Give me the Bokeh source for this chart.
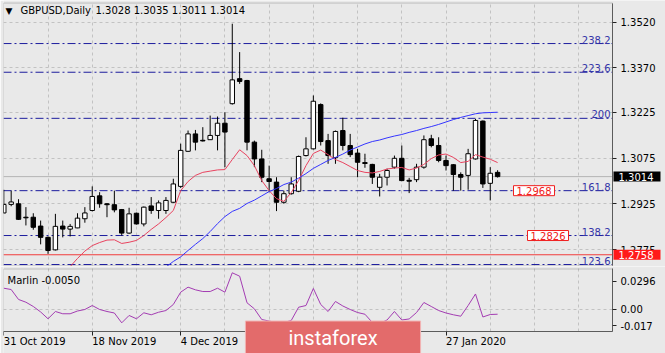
from bokeh.plotting import figure
from bokeh.models import (FixedTicker, Label, Range1d, ColumnDataSource, BoxAnnotation,
                          PrintfTickFormatter, CustomJSTickFormatter)
from bokeh.layouts import column
from bokeh.embed import file_html
from bokeh.resources import INLINE

# ---------------- data ----------------
symbol_title = "GBPUSD,Daily"
last_ohlc_text = "1.3028 1.3035 1.3011 1.3014"

opens = [1.2895, 1.2923, 1.2925, 1.2881, 1.2881, 1.2852, 1.2815, 1.2774, 1.2852, 1.2842,
         1.2846, 1.2876, 1.2903, 1.2951, 1.2925, 1.2922, 1.2906, 1.2829, 1.2894, 1.2859,
         1.2918, 1.2903, 1.2903, 1.2930, 1.2982, 1.3097, 1.3154, 1.3133, 1.3135, 1.3149,
         1.3189, 1.3253, 1.3335, 1.3329, 1.3127, 1.3072, 1.3007, 1.2996, 1.2930, 1.2958,
         1.2966, 1.3083, 1.3105, 1.3250, 1.3132, 1.3076, 1.3165, 1.3116, 1.3091, 1.3060,
         1.3054, 1.2979, 1.3012, 1.3045, 1.3074, 1.3002, 1.3004, 1.3045, 1.3138, 1.3116,
         1.3067, 1.3053, 1.3021, 1.3018, 1.3072, 1.3196, 1.2992, 1.3028]
highs = [1.2971, 1.2968, 1.2940, 1.2914, 1.2894, 1.2870, 1.2818, 1.2892, 1.2870, 1.2859,
         1.2894, 1.2914, 1.2982, 1.2963, 1.2927, 1.2968, 1.2908, 1.2912, 1.2896, 1.2916,
         1.2947, 1.2936, 1.2947, 1.3007, 1.3122, 1.3165, 1.3167, 1.3176, 1.3214, 1.3211,
         1.3225, 1.3515, 1.3422, 1.3331, 1.3132, 1.3102, 1.3050, 1.3012, 1.2968, 1.3012,
         1.3083, 1.3143, 1.3280, 1.3254, 1.3154, 1.3165, 1.3207, 1.3154, 1.3105, 1.3089,
         1.3056, 1.3023, 1.3040, 1.3083, 1.3116, 1.3010, 1.3056, 1.3149, 1.3151, 1.3143,
         1.3083, 1.3055, 1.3028, 1.3105, 1.3203, 1.3198, 1.3045, 1.3035]
lows = [1.2893, 1.2917, 1.2872, 1.2854, 1.2840, 1.2792, 1.2761, 1.2772, 1.2815, 1.2818,
        1.2845, 1.2863, 1.2900, 1.2912, 1.2881, 1.2897, 1.2821, 1.2827, 1.2857, 1.2851,
        1.2892, 1.2876, 1.2892, 1.2928, 1.2977, 1.3095, 1.3100, 1.3129, 1.3134, 1.3100,
        1.3045, 1.3250, 1.3318, 1.3100, 1.3045, 1.2996, 1.2963, 1.2901, 1.2925, 1.2955,
        1.2963, 1.3080, 1.3103, 1.3116, 1.3056, 1.3056, 1.3100, 1.3078, 1.3012, 1.3043,
        1.2990, 1.2949, 1.2985, 1.3040, 1.2999, 1.2960, 1.2996, 1.3040, 1.3110, 1.3061,
        1.3034, 1.2968, 1.2968, 1.2971, 1.3070, 1.2977, 1.2936, 1.3011]
closes = [1.2923, 1.2931, 1.2874, 1.2879, 1.2848, 1.2815, 1.2772, 1.2851, 1.2842, 1.2851,
          1.2878, 1.2895, 1.2949, 1.2925, 1.2922, 1.2905, 1.2829, 1.2892, 1.2859, 1.2914,
          1.2903, 1.2928, 1.2936, 1.2990, 1.3100, 1.3154, 1.3127, 1.3131, 1.3149, 1.3189,
          1.3160, 1.3331, 1.3326, 1.3127, 1.3072, 1.3012, 1.2998, 1.2930, 1.2958, 1.2990,
          1.3080, 1.3105, 1.3261, 1.3129, 1.3083, 1.3162, 1.3116, 1.3086, 1.3061, 1.3057,
          1.3012, 1.3012, 1.3034, 1.3074, 1.3001, 1.2999, 1.3045, 1.3135, 1.3116, 1.3067,
          1.3050, 1.3021, 1.3012, 1.3089, 1.3198, 1.2990, 1.3025, 1.3014]

# fast moving average (red), first value at bar index red_ma_start
red_ma_start = 9
red_ma = [1.2719, 1.2746, 1.2770, 1.2788, 1.2798, 1.2806, 1.2807, 1.2795, 1.2799, 1.2805,
          1.2821, 1.2841, 1.2859, 1.2880, 1.2903, 1.2968, 1.2998, 1.3018, 1.3028, 1.3032,
          1.3036, 1.3037, 1.3070, 1.3102, 1.3083, 1.3050, 1.3001, 1.2968, 1.2942, 1.2933,
          1.2962, 1.3001, 1.3050, 1.3090, 1.3101, 1.3086, 1.3070, 1.3060, 1.3047, 1.3034,
          1.3028, 1.3026, 1.3031, 1.3039, 1.3042, 1.3044, 1.3036, 1.3042, 1.3054, 1.3073,
          1.3085, 1.3088, 1.3077, 1.3060, 1.3064, 1.3086, 1.3078, 1.3071, 1.3060]
# slow moving average (blue)
blue_ma_start = 22
blue_ma = [1.2718, 1.2736, 1.2751, 1.2772, 1.2792, 1.2811, 1.2834, 1.2860, 1.2883, 1.2900,
           1.2910, 1.2926, 1.2937, 1.2951, 1.2965, 1.2975, 1.2988, 1.2996, 1.3009, 1.3024,
           1.3041, 1.3054, 1.3067, 1.3077, 1.3088, 1.3101, 1.3111, 1.3121, 1.3129, 1.3134,
           1.3141, 1.3147, 1.3152, 1.3159, 1.3165, 1.3172, 1.3178, 1.3185, 1.3193, 1.3201,
           1.3208, 1.3214, 1.3220, 1.3223, 1.3224, 1.3225]

marlin_name = "Marlin -0.0050"
marlin = [0.0225, 0.0211, 0.0106, 0.0077, 0.0032, -0.0026, -0.0098, -0.0021, -0.0045, -0.0045,
          -0.0016, 0.0000, 0.0042, 0.0000, -0.0021, -0.0037, -0.0141, -0.0063, -0.0098, -0.0035,
          -0.0056, -0.0029, -0.0011, 0.0053, 0.0183, 0.0236, 0.0208, 0.0190, 0.0190, 0.0225,
          0.0183, 0.0388, 0.0352, 0.0071, 0.0007, -0.0106, -0.0122, -0.0137, -0.0137, -0.0116,
          0.0024, 0.0042, 0.0222, 0.0053, -0.0021, 0.0085, 0.0037, 0.0000, -0.0032, -0.0050,
          -0.0137, -0.0148, -0.0111, -0.0021, -0.0111, -0.0100, -0.0032, 0.0074, 0.0032, -0.0011,
          -0.0037, -0.0056, -0.0071, 0.0042, 0.0164, -0.0079, -0.0053, -0.0050]

fib_names = ["238.2", "223.6", "200", "161.8", "138.2", "123.6"]
fib_levels = [1.3450, 1.3356, 1.3205, 1.2968, 1.2821, 1.2726]

marked_texts = ["1.2968", "1.2826"]
marked_levels = [1.2968, 1.2821]

current_price = 1.3014
alert_price = 1.2758

price_ticks = [1.3520, 1.3370, 1.3225, 1.3075, 1.2925, 1.2775]
marlin_ticks = [0.0296, 0.0, -0.017]
marlin_tick_labels = ["0.0296", "0.00", "-0.017"]

date_tick_bars = [0, 12, 24, 36, 48, 60]
date_tick_labels = ["31 Oct 2019", "18 Nov 2019", "4 Dec 2019", "20 Dec 2019", "9 Jan 2020", "27 Jan 2020"]

watermark = "instaforex"

# ---------------- layout / style constants ----------------
BG = "#e9e9e9"
BORDER = "#5c5c5c"
GRID = "#c2c2c2"
FONT = "DejaVu Sans"
FS = "10px"
FIB_LINE = "#1d1d9e"
FIB_TEXT = "#3434a8"

# x: frame starts at page x=3, 7.37 px per bar, 662 px wide frame
X_START, X_END = -0.041, 89.78
BOX_L, BOX_R = -0.041, 82.59          # panel box left / right (page x 3 .. 612)
# main panel y: frame = page y 0..266
Y1_MIN, Y1_MAX = 1.27195, 1.35911
BOX_B, BOX_T = 1.27212, 1.35828
# indicator y: frame = page y 266..353
Y2_MIN, Y2_MAX = -0.04651, 0.04545
P2_B, P2_T = -0.02326, 0.04281

grid_bars = list(range(6, 83, 6))

n = len(opens)
bars = list(range(n))
src = ColumnDataSource(dict(
    x=bars, o=opens, h=highs, l=lows, c=closes,
    top=[max(a, b) for a, b in zip(opens, closes)],
    bot=[min(a, b) for a, b in zip(opens, closes)],
    fill=["white" if c >= o else "black" for o, c in zip(opens, closes)],
))

xr = Range1d(X_START, X_END)


def style_axis(a):
    a.major_tick_out = 4
    a.major_tick_in = 0
    a.minor_tick_out = 0
    a.minor_tick_in = 0
    a.axis_line_color = BORDER
    a.major_tick_line_color = "#222222"
    a.major_label_text_font = FONT
    a.major_label_text_font_size = FS
    a.major_label_text_color = "black"
    a.major_label_standoff = 4


def hline(p, level, color, dash="solid"):
    p.segment(x0=[BOX_L], x1=[BOX_R], y0=[level], y1=[level],
              line_color=color, line_width=1, line_dash=dash)


# ---------------- main price panel ----------------
p1 = figure(width=665, height=266, x_range=xr, y_range=Range1d(Y1_MIN, Y1_MAX),
            x_axis_location=None, y_axis_location="right",
            toolbar_location=None, output_backend="svg",
            min_border_left=3, min_border_right=0, min_border_top=0, min_border_bottom=0,
            background_fill_color=BG, border_fill_color=BG, outline_line_color=None)

ax = p1.yaxis[0]
ax.fixed_location = BOX_R
ax.bounds = (BOX_B, BOX_T)
ax.ticker = FixedTicker(ticks=price_ticks)
ax.formatter = PrintfTickFormatter(format="%.4f")
style_axis(ax)

p1.ygrid.ticker = FixedTicker(ticks=price_ticks)
p1.ygrid.cross_bounds = (BOX_L, BOX_R)
p1.ygrid.grid_line_color = GRID
p1.ygrid.grid_line_dash = "3 3"
p1.xgrid.ticker = FixedTicker(ticks=grid_bars)
p1.xgrid.cross_bounds = (BOX_B, BOX_T)
p1.xgrid.grid_line_color = GRID
p1.xgrid.grid_line_dash = "3 3"

# horizontal levels
hline(p1, current_price, "#b4b4b4")
hline(p1, alert_price, "#f03c3c")
for lvl in fib_levels:
    hline(p1, lvl, FIB_LINE, "8 3 2 3")

# candles
p1.segment(x0="x", y0="l", x1="x", y1="h", line_color="black", line_width=1, source=src)
p1.vbar(x="x", width=0.6, top="top", bottom="bot", fill_color="fill",
        line_color="black", line_width=1, source=src)

# moving averages
p1.line(x=list(range(red_ma_start, red_ma_start + len(red_ma))), y=red_ma,
        line_color="#e8435f", line_width=1)
p1.line(x=list(range(blue_ma_start, blue_ma_start + len(blue_ma))), y=blue_ma,
        line_color="#3535ff", line_width=1)

# panel border
p1.add_layout(BoxAnnotation(left=BOX_L, right=BOX_R, bottom=BOX_B, top=BOX_T,
                            fill_alpha=0, line_color=BORDER, line_width=1))

# fib labels
for name, lvl in zip(fib_names, fib_levels):
    p1.add_layout(Label(x=607, x_units="screen", y=lvl, text=name, text_align="right",
                        text_baseline="bottom", text_color=FIB_TEXT, text_font=FONT,
                        text_font_size=FS))

# marked price boxes
for t, lvl, xs in zip(marked_texts, marked_levels, [510, 524]):
    p1.add_layout(Label(x=xs, x_units="screen", y=lvl, text=t, text_align="left",
                        text_baseline="middle", text_color="#f02020", text_font=FONT,
                        text_font_size=FS, background_fill_color="white",
                        border_line_color="#f02020", border_line_width=1,
                        padding=dict(left=3, right=3, top=1, bottom=1), level="overlay"))

# price boxes on the axis
p1.add_layout(Label(x=610, x_units="screen", y=current_price, text="%.4f" % current_price,
                    text_align="left", text_baseline="middle", text_color="white",
                    text_font=FONT, text_font_size=FS, background_fill_color="black",
                    padding=dict(left=5, right=7, top=1, bottom=1), level="overlay"))
p1.add_layout(Label(x=610, x_units="screen", y=alert_price, text="%.4f" % alert_price,
                    text_align="left", text_baseline="middle", text_color="white",
                    text_font=FONT, text_font_size=FS, background_fill_color="#ff1a1a",
                    padding=dict(left=5, right=7, top=1, bottom=1), level="overlay"))

# title
p1.add_layout(Label(x=2, y=256, x_units="screen", y_units="screen", text="\u25bc",
                    text_align="left", text_baseline="middle", text_font=FONT,
                    text_font_size="9px", text_color="black"))
p1.add_layout(Label(x=17, y=256, x_units="screen", y_units="screen", text=symbol_title,
                    text_align="left", text_baseline="middle", text_font=FONT,
                    text_font_size=FS, text_color="black"))
p1.add_layout(Label(x=92, y=256, x_units="screen", y_units="screen", text=last_ohlc_text,
                    text_align="left", text_baseline="middle", text_font=FONT,
                    text_font_size=FS, text_color="black"))

# ---------------- indicator panel ----------------
p2 = figure(width=665, height=87, x_range=xr, y_range=Range1d(Y2_MIN, Y2_MAX),
            x_axis_location="below", y_axis_location="right",
            toolbar_location=None, output_backend="svg",
            min_border_left=3, min_border_right=0, min_border_top=0, min_border_bottom=0,
            background_fill_color=BG, border_fill_color=BG, outline_line_color=None)

ay = p2.yaxis[0]
ay.fixed_location = BOX_R
ay.bounds = (P2_B, P2_T)
ay.ticker = FixedTicker(ticks=marlin_ticks)
ay.major_label_overrides = {t: s for t, s in zip(marlin_ticks, marlin_tick_labels)}
style_axis(ay)

axx = p2.xaxis[0]
axx.fixed_location = P2_B
axx.bounds = (BOX_L, BOX_R)
axx.ticker = FixedTicker(ticks=date_tick_bars)
axx.formatter = CustomJSTickFormatter(code="return ''")
style_axis(axx)

p2.xgrid.ticker = FixedTicker(ticks=grid_bars)
p2.xgrid.cross_bounds = (P2_B, P2_T)
p2.xgrid.grid_line_color = GRID
p2.xgrid.grid_line_dash = "3 3"
p2.ygrid.ticker = FixedTicker(ticks=[0.0])
p2.ygrid.cross_bounds = (BOX_L, BOX_R)
p2.ygrid.grid_line_color = GRID
p2.ygrid.grid_line_dash = "3 3"

p2.line(x=bars, y=marlin, line_color="#a33cb2", line_width=1)

p2.add_layout(BoxAnnotation(left=BOX_L, right=BOX_R, bottom=P2_B, top=P2_T,
                            fill_alpha=0, line_color=BORDER, line_width=1))

p2.add_layout(Label(x=4, y=73, x_units="screen", y_units="screen", text=marlin_name,
                    text_align="left", text_baseline="middle", text_font=FONT,
                    text_font_size=FS, text_color="black"))

for b, t in zip(date_tick_bars, date_tick_labels):
    p2.add_layout(Label(x=b, y=18, x_units="data", y_units="screen", text=t,
                        text_align="left", text_baseline="top", text_font=FONT,
                        text_font_size=FS, text_color="black"))

p2.add_layout(Label(x=329.5, y=14.5, x_units="screen", y_units="screen", text=watermark,
                    text_align="center", text_baseline="middle", text_font="Roboto",
                    text_font_size="20px", text_color="white",
                    background_fill_color="#e36b6b", border_line_color="#f2b4b4",
                    border_line_width=1,
                    padding=dict(left=43, right=43, top=5, bottom=7), level="overlay"))

layout = column(p1, p2, spacing=0)

with open("out.html", "w") as f:
    f.write(file_html(layout, INLINE))
